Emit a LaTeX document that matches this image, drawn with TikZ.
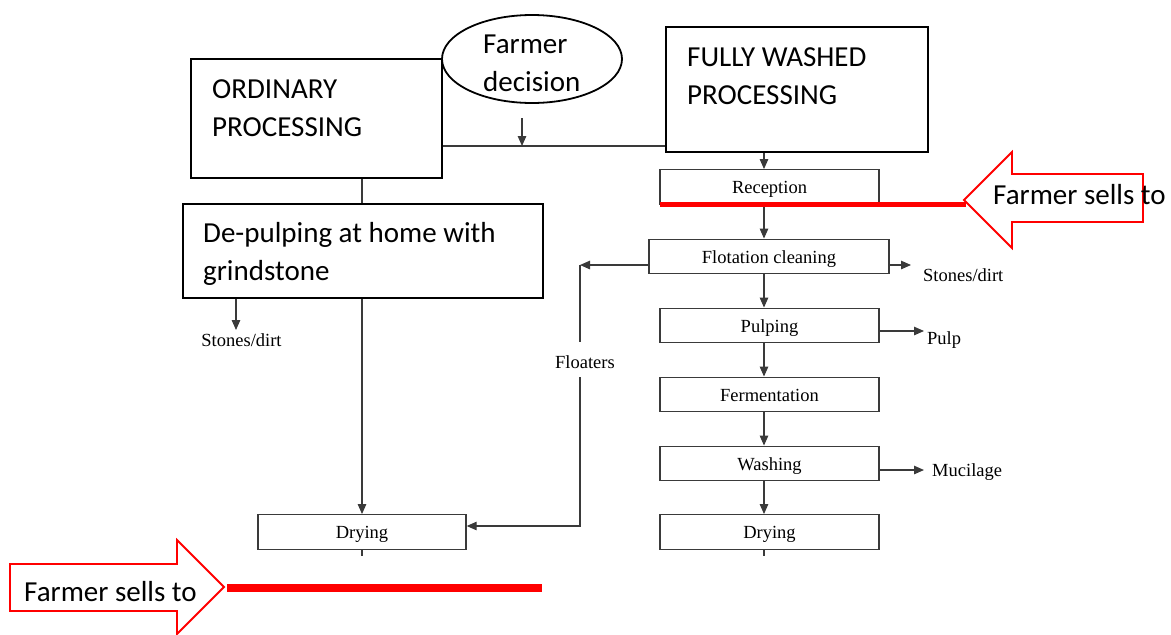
\documentclass[tikz,border=0pt]{standalone}
\usepackage{fontspec}
\usetikzlibrary{arrows.meta,shapes.geometric}
\newfontfamily\calib{Carlito}
\newfontfamily\tms{Liberation Serif}
\definecolor{lnc}{HTML}{3A3A3A}
\definecolor{redc}{HTML}{FF0000}
\tikzset{
  bigbox/.style={draw=black, line width=1.8pt, rectangle, inner sep=0pt},
  bigtext/.style={font=\calib\fontsize{29}{38}\selectfont, align=left, inner sep=0pt, anchor=north west},
  stepbox/.style={draw=lnc, line width=1.4pt, rectangle, inner sep=0pt, minimum height=34.5pt, text height=13pt, text depth=0pt, font=\tms\fontsize{18.5}{22}\selectfont},
  small/.style={font=\tms\fontsize{18.5}{22}\selectfont, inner sep=0pt},
  arr/.style={draw=lnc, line width=1.2pt, -{Triangle[length=10pt,width=8.5pt]}},
  ln/.style={draw=lnc, line width=1.2pt},
  redline/.style={draw=redc, line cap=butt},
  redarrow/.style={draw=redc, line width=1.8pt, fill=white, line join=miter}
}
\begin{document}
\begin{tikzpicture}[x=1pt,y=-1pt]
\useasboundingbox (0,0) rectangle (1171,635);

% big boxes
\node[bigbox, minimum width=251pt, minimum height=119pt] (ord) at (316.5,118.5) {};
\node[bigtext] (ordtxt) at (212,79) {ORDINARY\\PROCESSING};
\node[bigbox, minimum width=262pt, minimum height=125pt] (fw) at (797,89.5) {};
\node[bigtext] (fwtxt) at (687,47) {FULLY WASHED\\PROCESSING};
\node[draw=black, line width=1.8pt, ellipse, minimum width=180pt, minimum height=88pt, inner sep=0pt] (dec) at (532,59) {};
\node[bigtext] (dectxt) at (483,35) {Farmer\\decision};
\node[bigbox, minimum width=360pt, minimum height=94pt] (dep) at (363,251) {};
\node[bigtext] (deptxt) at (203,222) {De-pulping at home with\\grindstone};

% right column steps
\node[stepbox, minimum width=219pt] (rec) at (769.5,187) {Reception};
\node[stepbox, minimum width=240pt] (flot) at (769,256.5) {Flotation cleaning};
\node[stepbox, minimum width=219pt] (pulp) at (769.5,325.5) {Pulping};
\node[stepbox, minimum width=219pt] (ferm) at (769.5,394.5) {Fermentation};
\node[stepbox, minimum width=219pt] (wash) at (769.5,463.5) {Washing};
\node[stepbox, minimum width=219pt] (dry2) at (769.5,532) {Drying};
\node[stepbox, minimum width=208pt] (dry1) at (362,532) {Drying};

% side labels
\node[small, anchor=west] (stone2) at (923,275) {Stones/dirt};
\node[small, anchor=west] (pulpout) at (927,340) {Pulp};
\node[small, anchor=west] (muc) at (932,472) {Mucilage};
\node[small] (stone1) at (241.5,340) {Stones/dirt};
\node[small] (float) at (585,362) {Floaters};

% coordinates
\coordinate (colx) at (764,0);
\coordinate (decarr) at (522,118);
\coordinate (jn) at (522,146);
\coordinate (lcol) at (362,0);
\coordinate (flx) at (580,265);
\coordinate (flgap1) at (580,342);
\coordinate (flgap2) at (580,377);
\coordinate (flbot) at (580,526);
\coordinate (st1end) at (236,330);
\coordinate (st2end) at (911,265);
\coordinate (pulpend) at (924,331);
\coordinate (mucend) at (924,470);
\coordinate (tick1) at (362,556);
\coordinate (tick2) at (764,556);

% connectors top
\draw[ln] (ord.east |- jn) -- (fw.west |- jn);
\draw[arr] (decarr) -- (jn);
\draw[ln] (ord.south -| lcol) -- (dep.north -| lcol);
\draw[arr] (dep.south -| lcol) -- (dry1.north -| lcol);
\draw[arr] (dep.south -| st1end) -- (st1end);

% right column connectors
\draw[arr] (fw.south -| colx) -- (rec.north -| colx);
\draw[arr] (rec.south -| colx) -- (flot.north -| colx);
\draw[arr] (flot.south -| colx) -- (pulp.north -| colx);
\draw[arr] (pulp.south -| colx) -- (ferm.north -| colx);
\draw[arr] (ferm.south -| colx) -- (wash.north -| colx);
\draw[arr] (wash.south -| colx) -- (dry2.north -| colx);
\draw[arr] (flot.east |- st2end) -- (st2end);
\draw[arr] (pulp.east |- pulpend) -- (pulpend);
\draw[arr] (wash.east |- mucend) -- (mucend);

% floaters path
\draw[arr] (flot.west |- flx) -- (flx);
\draw[ln] (flx) -- (flgap1);
\draw[arr] (flgap2) -- (flbot) -- (dry1.east |- flbot);

% ticks
\draw[ln] (dry1.south -| lcol) -- (tick1);
\draw[ln] (dry2.south -| colx) -- (tick2);

% red elements
\coordinate (r1a) at (660,204);
\coordinate (r1b) at (966,204);
\draw[redline, line width=5pt] (r1a) -- (r1b);
\draw[redarrow] (964,200) -- (1012,152) -- (1012,174) -- (1143,174) -- (1143,222) -- (1012,222) -- (1012,248) -- cycle;
\node[font=\calib\fontsize{29}{38}\selectfont, inner sep=0pt, anchor=base west] (sell1) at (993,204) {Farmer sells to};

\coordinate (r2a) at (227,588);
\coordinate (r2b) at (542,588);
\draw[redline, line width=7.5pt] (r2a) -- (r2b);
\draw[redarrow] (10,564) -- (177,564) -- (177,540) -- (224,587) -- (177,634) -- (177,611) -- (10,611) -- cycle;
\node[font=\calib\fontsize{29}{38}\selectfont, inner sep=0pt, anchor=base west] (sell2) at (24,601) {Farmer sells to};
\end{tikzpicture}
\end{document}
